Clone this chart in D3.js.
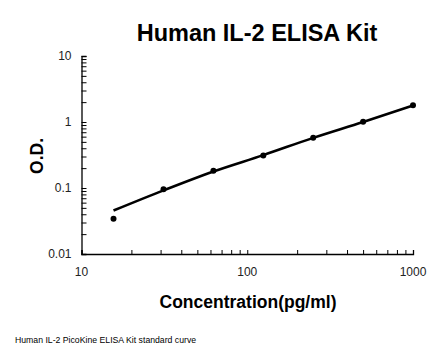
<!DOCTYPE html>
<html><head><meta charset="utf-8">
<script src="https://cdn.jsdelivr.net/npm/d3@7"></script>
<style>body{margin:0;background:#fff}svg{display:block}</style>
</head><body>
<script>
const concentrations = [15.6, 31.25, 62.5, 125, 250, 500, 1000];
const odValues = [0.0343, 0.0955, 0.183, 0.311, 0.578, 1.007, 1.79];
const fitConcentrations = [15.6, 31.25, 62.5, 125, 250, 500, 1000];
const fitOD = [0.0455, 0.092, 0.178, 0.315, 0.575, 1.0, 1.78];
const xTickLabels = [10, 100, 1000];
const yTickLabels = [0.01, 0.1, 1, 10];
const title = "Human IL-2 ELISA Kit";
const xTitle = "Concentration(pg/ml)";
const yTitle = "O.D.";
const footnote = "Human IL-2 PicoKine ELISA Kit standard curve";

const W = 446, H = 356;
const svg = d3.select("body").append("svg").attr("width", W).attr("height", H);
const x = d3.scaleLog().domain([10, 1000]).range([81.5, 413]);
const y = d3.scaleLog().domain([0.01, 10]).range([254, 56]);
const font = "'Liberation Sans', Arial, sans-serif";

// minor ticks
const xMinor = [], yMinor = [];
for (let d = 10; d < 1000; d *= 10) for (let k = 2; k <= 9; k++) xMinor.push(d * k);
for (let d = 0.01; d < 10; d *= 10) for (let k = 2; k <= 9; k++) yMinor.push(+(d * k).toPrecision(3));

const g = svg.append("g");
// X axis
const xAxis = d3.axisBottom(x).tickValues(xMinor.concat(xTickLabels)).tickSize(-4).tickFormat("");
g.append("g").attr("transform", `translate(0,${y(0.01)})`).call(xAxis)
  .call(s => { s.select(".domain").attr("stroke", "#000").attr("stroke-width", 1.3); s.selectAll("line").attr("stroke", "#000").attr("stroke-width", 1); });
// Y axis
const yAxis = d3.axisLeft(y).tickValues(yMinor.concat(yTickLabels)).tickSize(-5).tickFormat("");
g.append("g").attr("transform", `translate(${x(10)},0)`).call(yAxis)
  .call(s => { s.select(".domain").attr("stroke", "#000").attr("stroke-width", 1.3); s.selectAll("line").attr("stroke", "#000").attr("stroke-width", 1); });

// tick labels
svg.selectAll(".xl").data(xTickLabels).enter().append("text")
  .attr("x", d => x(d)).attr("y", 276).attr("text-anchor", "middle")
  .attr("font-family", font).attr("font-size", 12).attr("fill", "#222").text(d => d);
svg.selectAll(".yl").data(yTickLabels).enter().append("text")
  .attr("x", 71.5).attr("y", d => y(d) + 4.3).attr("text-anchor", "end")
  .attr("font-family", font).attr("font-size", 12).attr("fill", "#222").text(d => d);

// fit curve
const line = d3.line().x(d => x(d[0])).y(d => y(d[1])).curve(d3.curveMonotoneX);
svg.append("path").datum(fitConcentrations.map((c, i) => [c, fitOD[i]]))
  .attr("d", line).attr("fill", "none").attr("stroke", "#000").attr("stroke-width", 2.6);

// points
svg.selectAll(".pt").data(concentrations.map((c, i) => [c, odValues[i]])).enter().append("circle")
  .attr("cx", d => x(d[0])).attr("cy", d => y(d[1])).attr("r", 3).attr("fill", "#000");

// titles
svg.append("text").attr("x", 257).attr("y", 41).attr("text-anchor", "middle")
  .attr("font-family", font).attr("font-weight", "bold").attr("font-size", 23.5).attr("fill", "#000").text(title);
svg.append("text").attr("x", 248).attr("y", 308).attr("text-anchor", "middle")
  .attr("font-family", font).attr("font-weight", "bold").attr("font-size", 17.5).attr("fill", "#000").text(xTitle);
svg.append("text").attr("transform", "translate(43,156) rotate(-90)").attr("text-anchor", "middle")
  .attr("font-family", font).attr("font-weight", "bold").attr("font-size", 17.5).attr("fill", "#000").text(yTitle);
svg.append("text").attr("x", 15).attr("y", 343)
  .attr("font-family", font).attr("font-size", 8.7).attr("fill", "#000").text(footnote);
</script>
</body></html>
